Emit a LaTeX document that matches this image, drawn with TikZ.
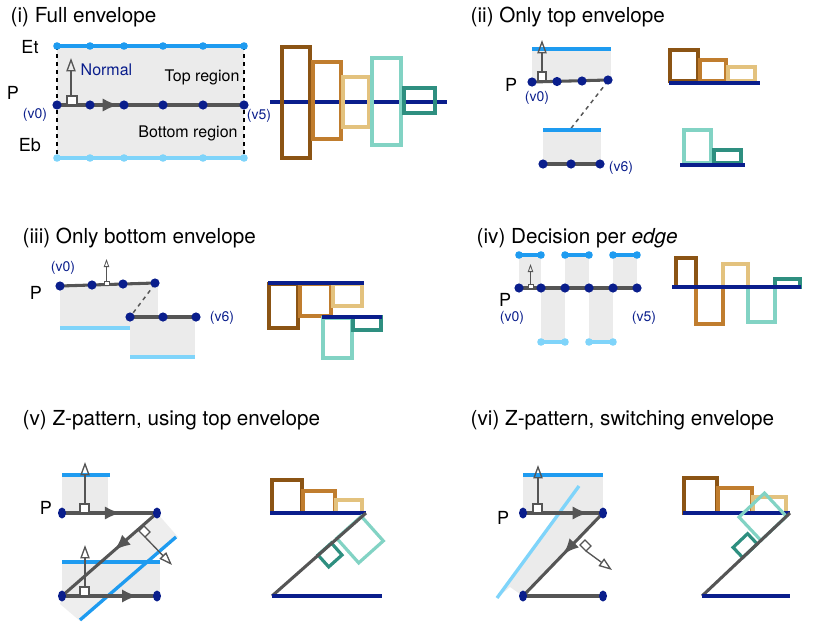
\documentclass[tikz,border=0pt]{standalone}
\usepackage{fontspec}
\setmainfont{TeX Gyre Heros}
\usetikzlibrary{arrows.meta,decorations.markings}
\definecolor{etc}{HTML}{1E9BF0}
\definecolor{ebc}{HTML}{7FD4FA}
\definecolor{nv}{HTML}{0A1E8C}
\definecolor{gl}{HTML}{555555}
\definecolor{fl}{HTML}{EBEBEB}
\definecolor{bA}{HTML}{8B5414}
\definecolor{bB}{HTML}{C07D2E}
\definecolor{bC}{HTML}{E3C27E}
\definecolor{bD}{HTML}{82D3C4}
\definecolor{bE}{HTML}{2E8F80}
\tikzset{
 ttl/.style={anchor=west,font=\fontsize{15.5}{18}\selectfont},
 lab/.style={font=\fontsize{13.5}{15}\selectfont},
 vl/.style={text=nv,font=\fontsize{10.5}{12}\selectfont},
 pl/.style={gl,line width=2.3pt},
 et/.style={etc,line width=2.5pt},
 eb/.style={ebc,line width=2.5pt},
 nl/.style={nv,line width=2.8pt},
 dt/.style={fill=nv,draw=none},
 bar/.style={line width=2.4pt,fill=none},
 nrm/.style={gl,line width=1pt,-{Triangle[open,length=10pt,width=7pt]}},
 snrm/.style={gl,line width=0.6pt,-{Triangle[open,length=6pt,width=4pt]}},
 sq/.style={gl,line width=1pt,fill=white},
 mid/.style={postaction={decorate},decoration={markings,mark=at position #1 with {\arrow{Latex[length=12pt,width=10pt]}}}},
}
\begin{document}
\begin{tikzpicture}[x=0.75pt,y=-0.75pt]
\useasboundingbox (0,0) rectangle (814,632);
% ---------- (i)
\node[ttl] (t1) at (6,17) {(i) Full envelope};
\fill[fl] (57,46) rectangle (244,158);
\draw[dashed,line width=0.9pt] (57,46) -- (57,158) (244,46) -- (244,158);
\draw[et] (57,46) -- (244,46);
\draw[eb] (57,158) -- (244,158);
\foreach \x in {57,90,124,163,203,244}{\fill[etc] (\x,46) circle (3.8); \fill[ebc] (\x,158) circle (3.8);}
\draw[pl,mid=0.33] (57,105) -- (244,105);
\foreach \x in {57,90,124,163,203,244}{\fill[dt] (\x,105) circle (4.6);}
\draw[sq] (67,96) rectangle (77,105);
\draw[nrm] (71,96) -- (71,58);
\node[lab] (et1) at (30,47) {Et};
\node[lab] (p1) at (13,93) {P};
\node[lab] (eb1) at (30,145) {Eb};
\node[vl,anchor=west,font=\fontsize{12}{14}\selectfont] (n1) at (76,70) {Normal};
\node[font=\fontsize{12}{14}\selectfont] (tr) at (202,77) {Top region};
\node[font=\fontsize{12}{14}\selectfont] (br) at (188,133) {Bottom region};
\node[vl] (v01) at (35,115) {(v0)};
\node[vl] (v51) at (259,116) {(v5)};
\draw[nl] (270,102) -- (447,102);
\draw[bar,bA] (282,47) rectangle (310,158);
\draw[bar,bB] (313,62) rectangle (341,139);
\draw[bar,bC] (343,77) rectangle (369,127);
\draw[bar,bD] (372,58) rectangle (401,145);
\draw[bar,bE] (404,88) rectangle (435,113);
% ---------- (ii)
\node[ttl] (t2) at (466,17) {(ii) Only top envelope};
\fill[fl] (532,49) rectangle (611,81);
\draw[et] (532,49) -- (611,49);
\draw[dashed,gl,line width=1.1pt] (608,81) -- (544,163);
\draw[pl] (532,82) -- (608,80);
\foreach \x/\y in {532/82,557/81.5,582/81,608/80}{\fill[dt] (\x,\y) circle (4.6);}
\draw[sq] (538,72) rectangle (546,81);
\draw[nrm] (542,72) -- (542,40);
\node[lab] (p2) at (511,85) {P};
\node[vl] (v02) at (537,98) {(v0)};
\fill[fl] (543,130) rectangle (601,164);
\draw[et] (543,130) -- (601,130);
\draw[pl] (543,164) -- (600,164);
\foreach \x in {543,571,600}{\fill[dt] (\x,164) circle (4.6);}
\node[vl] (v62) at (621,168) {(v6)};
\draw[bar,bA] (670,50) rectangle (698,81);
\draw[bar,bB] (700,60) rectangle (726,81);
\draw[bar,bC] (728,67) rectangle (755,81);
\draw[nl] (669,83) -- (760,83);
\draw[bar,bD] (684,130) rectangle (711,163);
\draw[bar,bE] (714,150) rectangle (741,163);
\draw[nl] (680,165) -- (745,165);
% ---------- (iii)
\node[ttl] (t3) at (18,238) {(iii) Only bottom envelope};
\fill[fl] (60,285) rectangle (158,328);
\draw[eb] (60,328) -- (158,328);
\fill[fl] (130,318) rectangle (195,357);
\draw[eb] (130,357) -- (195,357);
\draw[dashed,gl,line width=1.1pt] (155,284) -- (130,317);
\draw[pl] (60,286) -- (155,283);
\foreach \x/\y in {60/286,92/285,123/284,155/283}{\fill[dt] (\x,\y) circle (4.6);}
\draw[sq,line width=0.5pt] (104,281) rectangle (109,285);
\draw[snrm] (106.5,281) -- (106.5,259);
\draw[pl] (130,317) -- (196,317);
\foreach \x in {130,163,196}{\fill[dt] (\x,317) circle (4.6);}
\node[lab] (p3) at (36,293) {P};
\node[vl] (v03) at (63,268) {(v0)};
\node[vl] (v63) at (222,318) {(v6)};
\draw[bar,bA] (269,284) rectangle (298,328);
\draw[bar,bB] (300,284) rectangle (331,316);
\draw[bar,bC] (333,284) rectangle (362,306);
\draw[nl] (268,283) -- (364,283);
\draw[bar,bD] (323,318) rectangle (352,358);
\draw[bar,bE] (353,317) rectangle (381,330);
\draw[nl] (322,317) -- (382,317);
% ---------- (iv)
\node[ttl] (t4) at (472,238) {(iv) Decision per \textit{edge}};
\foreach \a/\b in {519/541,565/589,613/637}{\fill[fl] (\a,255) rectangle (\b,288); \draw[et] (\a,255) -- (\b,255); \fill[etc] (\a,255) circle (3.8) (\b,255) circle (3.8);}
\foreach \a/\b in {541/565,589/613}{\fill[fl] (\a,288) rectangle (\b,342); \draw[eb] (\a,342) -- (\b,342); \fill[ebc] (\a,342) circle (3.8) (\b,342) circle (3.8);}
\draw[pl] (519,288) -- (637,288);
\foreach \x in {519,541,565,589,613,637}{\fill[dt] (\x,288) circle (4.6);}
\draw[sq,line width=0.5pt] (528,284) rectangle (533,288);
\draw[snrm] (530.5,284) -- (530.5,264);
\node[lab] (p4) at (505,300) {P};
\node[vl] (v04) at (512,318) {(v0)};
\node[vl] (v54) at (644,318) {(v5)};
\draw[bar,bA] (676,258) rectangle (696,287);
\draw[bar,bB] (696,287) rectangle (723,324);
\draw[bar,bC] (723,264) rectangle (748,287);
\draw[bar,bD] (748,287) rectangle (775,322);
\draw[bar,bE] (775,279) rectangle (800,287);
\draw[nl] (672,287) -- (801,287);
% ---------- (v)
\node[ttl] (t5) at (18,420) {(v) Z-pattern, using top envelope};
\fill[fl] (62,475) rectangle (108,513);
\draw[et] (62,475) -- (110,475);
\fill[fl] (62,562) rectangle (160,596);
\fill[fl,opacity=0.85] (157,513) -- (178,537) -- (80,621) -- (60,604) -- (62,596) -- cycle;
\draw[et] (62,562) -- (160,562);
\draw[et] (80,620) -- (176,537);
\draw[pl,mid=0.62] (62,513) -- (157,513);
\draw[pl,mid=0.45] (157,513) -- (62,596);
\draw[pl,mid=0.8] (62,596) -- (157,596);
\foreach \x/\y in {62/513,157/513,62/596,157/596}{\fill[dt] (\x,\y) ellipse (4 and 5.5);}
\draw[sq] (80,504) rectangle (89,513);
\draw[nrm] (85,504) -- (85,462);
\draw[sq] (80,587) rectangle (89,596);
\draw[nrm] (85,587) -- (85,545);
\draw[sq] (139,531) -- (144,526) -- (150,532) -- (145,537) -- cycle;
\draw[nrm] (145,537) -- (172,565);
\node[lab] (p5) at (46,508) {P};
\draw[bar,bA] (272,480) rectangle (302,513);
\draw[bar,bB] (303,491) rectangle (335,513);
\draw[bar,bC] (336,500) rectangle (362,513);
\draw[nl] (270,513) -- (366,513);
\draw[bar,bD] (361.3,516.3) -- (336.7,538.3) -- (358.7,562.9) -- (383.3,540.9) -- cycle;
\draw[bar,bE] (331.4,543) -- (318,555) -- (328.7,566.9) -- (342,555) -- cycle;
\draw[gl,line width=2.3pt] (366,513) -- (272,596);
\draw[nl] (272,596) -- (382,596);
% ---------- (vi)
\node[ttl] (t6) at (466,420) {(vi) Z-pattern, switching envelope};
\fill[fl] (523,475) rectangle (603,513);
\fill[fl] (603,513) -- (523,596) -- (510,587) -- (497,598) -- (580,486) -- (595,505) -- cycle;
\draw[et] (523,475) -- (603,475);
\draw[eb] (497,598) -- (579,486);
\draw[pl,mid=0.82] (523,513) -- (603,513);
\draw[pl,mid=0.5] (603,513) -- (523,596);
\draw[pl] (523,596) -- (603,596);
\foreach \x/\y in {523/513,603/513,523/596,603/596}{\fill[dt] (\x,\y) ellipse (4 and 5.5);}
\draw[sq] (533,504) rectangle (542,513);
\draw[nrm] (538,504) -- (538,465);
\draw[sq] (580,545) -- (585,540) -- (591,546) -- (586,551) -- cycle;
\draw[nrm] (586,551) -- (612,570);
\node[lab] (p6) at (503,518) {P};
\draw[bar,bA] (684,478) rectangle (717,513);
\draw[bar,bB] (718,488) rectangle (752,513);
\draw[bar,bC] (753,497) rectangle (786,513);
\draw[nl] (683,513) -- (790,513);
\draw[bar,bD] (786.4,516.4) -- (760.9,540.4) -- (739,517.1) -- (764.5,493.1) -- cycle;
\draw[bar,bE] (757.2,543.9) -- (742.7,557.6) -- (733.1,547.4) -- (747.6,533.7) -- cycle;
\draw[gl,line width=2.3pt] (790,513) -- (702,596);
\draw[nl] (702,596) -- (790,596);
\end{tikzpicture}
\end{document}
